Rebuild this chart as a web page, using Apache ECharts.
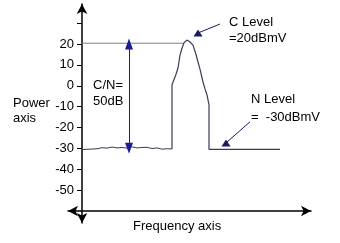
<!DOCTYPE html>
<html>
<head>
<meta charset="utf-8">
<script src="https://cdn.jsdelivr.net/npm/echarts@6/dist/echarts.min.js"></script>
<style>
  html, body { margin: 0; padding: 0; background: #fff; }
  #chart { width: 340px; height: 243px; }
</style>
</head>
<body>
<div id="chart"></div>
<script>
// power axis ticks (dB)
const tickValues = [-50, -40, -30, -20, -10, 0, 10, 20, 30];
const labelValues = [-50, -40, -30, -20, -10, 0, 10, 20];

// spectrum trace: [frequency, power dB]
const noiseTrace = [
  [0, -30.6], [8, -30.4], [15, -30.2], [20, -29.7], [25, -29.9], [30, -29.4],
  [35, -29.8], [40, -29.6], [45, -29.9], [50, -29.3], [55, -29.8], [60, -29.6],
  [65, -29.5], [70, -30.1], [75, -29.8], [80, -30.4], [85, -30.2], [90, -30.3]
];
const carrierTrace = [
  [90, -30.3], [90, 0.5], [92, 3], [94, 5.5], [96, 8.5], [98, 14.7], [100, 18],
  [102, 20.6], [105, 21.9], [108, 21], [111, 19.5], [114, 15], [116, 11.4],
  [118, 8], [121, 1.8], [123, -1.5], [125, -4.4], [127, -9.2], [127, -30.5],
  [198, -30.5]
];
// carrier reference level line
const cLevelLine = [[0, 20.4], [101, 20.4]];

// annotation arrows
const cnArrow = [[47, 20], [47, -30]];
const cLevelPointer = [[138, 29.6], [116, 25.3]];
const nLevelPointer = [[168, -17.3], [144, -27.4]];

const navy = '#1c1c90';
const font = 'Liberation Sans, Arial, sans-serif';

let myChart = echarts.init(document.getElementById('chart'));
let option = {
  animation: false,
  backgroundColor: '#fff',
  grid: { left: 68, right: 29, top: 4, bottom: 20 },
  xAxis: {
    type: 'value',
    min: -14,
    max: 229,
    offset: -12,
    axisLine: {
      onZero: false,
      symbol: ['arrow', 'arrow'],
      symbolSize: [8, 10],
      lineStyle: { color: '#000', width: 1.5 }
    },
    axisTick: { show: false },
    axisLabel: { show: false },
    splitLine: { show: false }
  },
  yAxis: {
    type: 'value',
    min: -65.8,
    max: 39.2,
    offset: -14,
    axisLine: {
      show: true,
      onZero: false,
      symbol: ['arrow', 'arrow'],
      symbolSize: [8, 10],
      lineStyle: { color: '#000', width: 1.5 }
    },
    axisTick: {
      show: true,
      length: 5,
      customValues: tickValues,
      lineStyle: { color: '#000' }
    },
    axisLabel: {
      customValues: labelValues,
      margin: 8,
      color: '#000',
      fontSize: 13,
      fontFamily: font
    },
    splitLine: { show: false }
  },
  series: [
    {
      type: 'line',
      data: cLevelLine,
      symbol: 'none',
      lineStyle: { color: '#808080', width: 1 }
    },
    {
      type: 'line',
      data: noiseTrace,
      symbol: 'none',
      lineStyle: { color: '#3a3a5c', width: 1 }
    },
    {
      type: 'line',
      data: carrierTrace,
      symbol: 'none',
      lineStyle: { color: '#3a3a5c', width: 1.2 },
      markLine: {
        silent: true,
        animation: false,
        label: { show: false },
        lineStyle: { color: navy, type: 'solid', width: 1 },
        data: [
          [{ coord: cnArrow[0], symbol: 'triangle', symbolSize: [8, 11] },
           { coord: cnArrow[1], symbol: 'triangle', symbolSize: [8, 11] }],
          [{ coord: cLevelPointer[0], symbol: 'none', lineStyle: { color: '#1a1a60', width: 1 } },
           { coord: cLevelPointer[1], symbol: 'triangle', symbolSize: [9, 7], symbolRotate: 0 }],
          [{ coord: nLevelPointer[0], symbol: 'none', lineStyle: { color: '#1a1a60', width: 1 } },
           { coord: nLevelPointer[1], symbol: 'triangle', symbolSize: [9, 7], symbolRotate: 0 }]
        ]
      }
    }
  ],
  graphic: [
    { type: 'text', left: 13, top: 96, style: { text: 'Power\naxis', fill: '#000', font: '13px ' + font, lineHeight: 15 } },
    { type: 'text', left: 93, top: 77, style: { text: 'C/N=\n50dB', fill: '#000', font: '13px ' + font, lineHeight: 16 } },
    { type: 'text', left: 229, top: 14, style: { text: 'C Level\n=20dBmV', fill: '#000', font: '13px ' + font, lineHeight: 16 } },
    { type: 'text', left: 251, top: 90, style: { text: 'N Level\n=  -30dBmV', fill: '#000', font: '13px ' + font, lineHeight: 18 } },
    { type: 'text', left: 133, top: 220, style: { text: 'Frequency axis', fill: '#000', font: '13px ' + font } }
  ]
};
option && myChart.setOption(option);
</script>
</body>
</html>
